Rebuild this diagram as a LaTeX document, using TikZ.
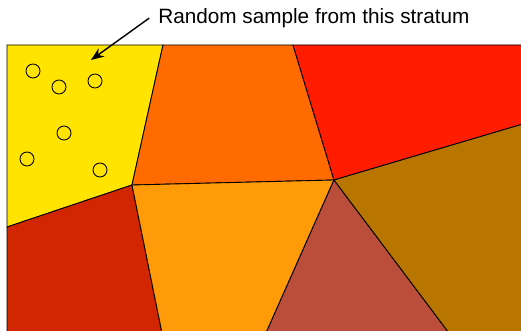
\documentclass[tikz,border=0pt]{standalone}
\usepackage{fontspec}
\setmainfont{Liberation Sans}
\usepackage{xcolor}
\usetikzlibrary{arrows.meta,positioning}

\definecolor{strYellow}{HTML}{FFE400}
\definecolor{strOrange}{HTML}{FF6B00}
\definecolor{strRed}{HTML}{FF1C00}
\definecolor{strDarkRed}{HTML}{D22600}
\definecolor{strAmber}{HTML}{FF9B08}
\definecolor{strBrick}{HTML}{BB4E3A}
\definecolor{strBrown}{HTML}{B87500}

\begin{document}
\begin{tikzpicture}[x=0.02cm,y=-0.02cm,line join=round,
  stratum/.style={draw=black,line width=.5pt},
  unit/.style={draw=black,line width=.5pt},
  callout/.style={font=\fontsize{11.8}{13}\selectfont,inner sep=0pt,anchor=base west}]
  \useasboundingbox (0,0) rectangle (521,331);
  % Corners of the strata; right and bottom run off the page.
  \coordinate (tl) at (7,45);   \coordinate (tr) at (523,45);
  \coordinate (bl) at (7,333);  \coordinate (br) at (523,333);
  \coordinate (a) at (163,45);  \coordinate (d) at (293,45);
  \coordinate (b) at (132,185); \coordinate (c) at (7,227);
  \coordinate (e) at (334,180); \coordinate (f) at (523,124);
  \coordinate (g) at (162,333); \coordinate (h) at (266,333);
  \coordinate (i) at (449,333);
  \filldraw[stratum,fill=strYellow] (tl)--(a)--(b)--(c)--cycle;
  \filldraw[stratum,fill=strOrange] (a)--(d)--(e)--(b)--cycle;
  \filldraw[stratum,fill=strRed] (d)--(tr)--(f)--(e)--cycle;
  \filldraw[stratum,fill=strDarkRed] (c)--(b)--(g)--(bl)--cycle;
  \filldraw[stratum,fill=strAmber] (b)--(e)--(h)--(g)--cycle;
  \filldraw[stratum,fill=strBrick] (e)--(i)--(h)--cycle;
  \filldraw[stratum,fill=strBrown] (e)--(f)--(br)--(i)--cycle;
  % Sampled units in the yellow stratum.
  \foreach \x/\y in {33/71,59/87,95/81,64/133,27/159,100/170}
    \draw[unit] (\x,\y) circle (7);
  \node[callout] (lbl) at (158,23.5) {Random sample from this stratum};
  \coordinate (tip) at (91,60);
  \draw[-{Stealth[length=2.6mm,width=2mm]},line width=.8pt]
    ([xshift=-5]lbl.west) -- (tip);
\end{tikzpicture}
\end{document}
